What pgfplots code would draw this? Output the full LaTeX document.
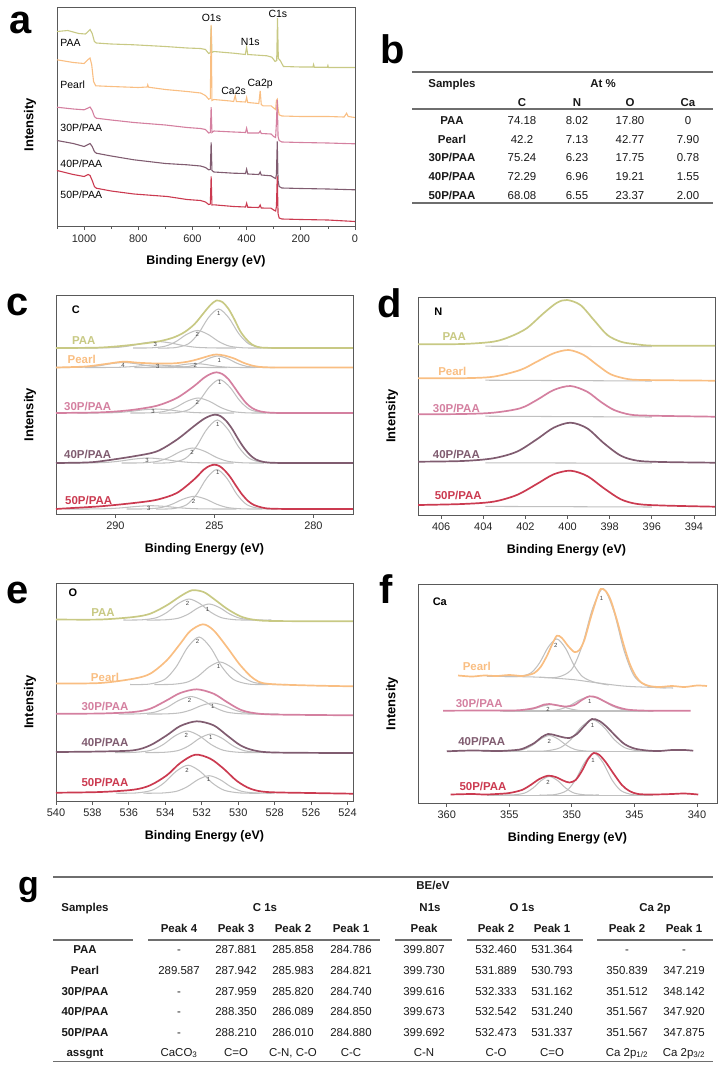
\documentclass[border=0pt]{standalone}
\usepackage{fontspec}
\setmainfont{Liberation Sans}
\setsansfont{Liberation Sans}
\usepackage{pgfplots}
\pgfplotsset{compat=1.18}
\definecolor{cPAA}{RGB}{200,201,132}
\definecolor{cPearl}{RGB}{249,190,130}
\definecolor{cThirty}{RGB}{212,128,160}
\definecolor{cForty}{RGB}{128,92,112}
\definecolor{cFifty}{RGB}{203,58,80}
\definecolor{cGray}{RGB}{192,192,192}
\definecolor{cRule}{RGB}{110,110,110}
\pgfplotsset{
  spec/.style={scale only axis, anchor=south west, x dir=reverse, ymin=0,
    axis line style={draw=black!65, line width=0.9bp},
    ytick=\empty, xtick pos=left, tick align=outside,
    major tick length=3.5bp, minor tick length=2bp,
    every tick/.style={black!65, line width=0.8bp},
    xticklabel style={font=\fontsize{11}{12}\selectfont, text=black!85, yshift=-1bp},
    /pgf/number format/assume math mode=true, /pgf/number format/1000 sep={},
    xlabel={Binding Energy (eV)}, ylabel={Intensity},
    xlabel style={at={([yshift=-35bp]axis description cs:0.5,0)}, anchor=center, font=\bfseries\fontsize{12.5}{13}\selectfont},
    ylabel style={at={([xshift=-26bp,yshift=-10bp]axis description cs:0,0.5)}, anchor=center, font=\bfseries\fontsize{13}{13}\selectfont},
  },
  dat/.style={line width=1.7bp, smooth},
  comp/.style={cGray, line width=1.05bp, smooth},
  sharpdat/.style={line width=1.1bp, sharp plot},
}
\tikzset{
  slab/.style={font=\bfseries\fontsize{11.5}{12}\selectfont, inner sep=0pt},
  elab/.style={font=\bfseries\fontsize{11}{12}\selectfont, inner sep=0pt},
  numl/.style={font=\fontsize{6}{6}\selectfont, text=black!75, inner sep=0pt},
  alab/.style={font=\fontsize{10.5}{11}\selectfont, inner sep=0pt},
  plab/.style={font=\bfseries\fontsize{40}{40}\selectfont, inner sep=0pt, anchor=base west},
  tb/.style={font=\fontsize{11.5}{13}\selectfont, anchor=base, inner sep=0pt, text=black!90},
  tbb/.style={font=\bfseries\fontsize{11.5}{13}\selectfont, anchor=base, inner sep=0pt, text=black!90},
}
\begin{document}
\begin{tikzpicture}
\useasboundingbox (0,0) rectangle (721bp,-1074bp);

% ---------------- panel a ----------------
\begin{axis}[spec, at={(57bp,-226.5bp)}, width=298bp, height=219.5bp,
  xmin=0, xmax=1100, ymax=219.5, xtick={0,200,...,1000}, minor xtick={100,300,...,1100},
  ylabel style={at={([xshift=-27bp,yshift=-8bp]axis description cs:0,0.5)}}]
\addplot[sharpdat, cPAA] coordinates {(1100,195) (1060,196) (1020,193) (995,192.5) (985,195) (978,197) (970,193) (962,185) (955,183.5) (900,182.5) (816,181.7) (700,180) (620,178.5) (570,178) (552,177) (540,173) (534,174) (531,200.7) (528,174) (521,175) (448,173.3) (405,172) (400,179.3) (396,172) (325,170.7) (307,169.3) (295,165) (289,166) (286,208.3) (283,168) (276,166) (264,160) (200,159.5) (155,159.5) (153,162) (150,159.3) (102,159.3) (100,161) (98,159) (0,159)};
\addplot[sharpdat, cPearl] coordinates {(1100,166.7) (1040,164) (1000,163) (985,167) (978,168.5) (972,162) (965,145) (957,140.7) (900,140) (800,139) (767,139.5) (765,141.7) (762,139.3) (700,137) (620,135) (570,133.5) (552,131) (540,127.3) (534,128) (531,201.7) (528,126) (521,127) (460,125.5) (448,125) (442,131) (438,125) (404,124.5) (400,129) (396,124) (355,123) (350,135.7) (346,122) (340,120.7) (310,120.7) (300,118.5) (293,117) (290,126) (287,127.3) (284,118) (280,111.7) (270,110.5) (200,110) (100,110) (40,109.5) (31,113.3) (25,110) (0,109)};
\addplot[sharpdat, cThirty] coordinates {(1100,119.3) (1040,117.5) (1000,116.7) (985,118.5) (978,119.5) (970,116) (962,110) (955,108.3) (900,106.5) (816,104) (700,101.5) (620,99) (570,98) (552,97) (540,93.5) (534,94) (531,119.3) (528,94) (521,95.5) (448,94.5) (404,94) (400,98.3) (396,93.5) (355,93.5) (350,95.5) (346,93) (310,92.5) (300,90) (293,89) (290,104) (287,126.7) (284,90) (280,86) (270,84.5) (200,84) (100,83.5) (40,83) (0,82.7)};
\addplot[sharpdat, cForty] coordinates {(1100,86) (1040,83) (1000,80) (985,82) (978,83) (970,80) (962,75) (955,73.3) (900,70.5) (816,66.7) (700,63) (620,61.7) (570,60.5) (552,59) (540,56.7) (534,57) (531,84) (528,56) (521,54.5) (448,53.3) (404,53) (400,57.3) (396,52.5) (355,52) (350,54.5) (346,51.5) (310,50.7) (300,49) (293,48) (290,52) (287,85) (284,46) (280,40) (270,38.5) (200,38) (100,37.5) (0,36.7)};
\addplot[sharpdat, cFifty] coordinates {(1100,56) (1040,52) (1000,50) (985,52) (978,51) (970,46) (962,40) (955,38.3) (900,35.5) (816,32.5) (693,30) (620,27) (570,26) (552,24.5) (540,22) (534,22.5) (531,50) (528,21.5) (521,21.7) (448,20) (404,19.5) (400,23.3) (396,19.3) (355,19) (350,21.5) (346,18.5) (310,18.3) (300,16.5) (293,15.5) (290,20) (287,50) (284,13) (280,8.5) (270,7.5) (200,7) (100,6.5) (0,5)};
\node[alab, anchor=west] at (1088,183.3) {PAA};
\node[alab, anchor=west] at (1088,141.7) {Pearl};
\node[alab, anchor=west] at (1088,98.3) {30P/PAA};
\node[alab, anchor=west] at (1088,62.7) {40P/PAA};
\node[alab, anchor=west] at (1088,31.7) {50P/PAA};
\node[alab] at (530,208.3) {O1s};
\node[alab] at (386.5,185) {N1s};
\node[alab] at (284.7,212.7) {C1s};
\node[alab] at (448,136) {Ca2s};
\node[alab] at (350,142.3) {Ca2p};
\end{axis}

% ---------------- panel c ----------------
\begin{axis}[spec, at={(56bp,-514bp)}, width=297bp, height=219bp,
  xmin=278, xmax=293, ymax=219, xtick={280,285,290}]
% PAA components
\addplot[comp] coordinates {(281.73,166) (282.58,166.35) (283.26,170.13) (283.77,180.39) (284.28,196.38) (284.79,205) (285.30,196.38) (285.81,180.39) (286.32,170.13) (287.00,166.35) (287.85,166)};
\addplot[comp] coordinates {(282.62,166) (283.52,166.16) (284.24,167.86) (284.78,172.46) (285.32,179.63) (285.86,183.5) (286.40,179.63) (286.94,172.46) (287.48,167.86) (288.20,166.16) (289.10,166)};
\addplot[comp] coordinates {(283.92,166) (285.02,166.06) (285.90,166.69) (286.56,168.40) (287.22,171.06) (287.88,172.5) (288.54,171.06) (289.20,168.40) (289.86,166.69) (290.74,166.06) (291.84,166)};
% Pearl components
\addplot[comp] coordinates {(281.94,146.5) (282.74,146.6) (283.38,147.72) (283.86,150.74) (284.34,155.46) (284.82,158) (285.30,155.46) (285.78,150.74) (286.26,147.72) (286.90,146.6) (287.70,146.5)};
\addplot[comp] coordinates {(282.92,146.5) (283.77,146.54) (284.45,146.92) (284.96,147.98) (285.47,149.62) (285.98,150.5) (286.49,149.62) (287.00,147.98) (287.51,146.92) (288.19,146.54) (289.04,146.5)};
\addplot[comp] coordinates {(284.34,146.5) (285.34,146.52) (286.14,146.77) (286.74,147.42) (287.34,148.45) (287.94,149) (288.54,148.45) (289.14,147.42) (289.74,146.77) (290.54,146.52) (291.54,146.5)};
\addplot[comp] coordinates {(285.99,146.5) (286.99,146.55) (287.79,147.03) (288.39,148.35) (288.99,150.4) (289.59,151.5) (290.19,150.4) (290.79,148.35) (291.39,147.03) (292.19,146.55) (293.19,146.5)};
% 30P components
\addplot[comp] coordinates {(281.68,101) (282.53,101.3) (283.21,104.55) (283.72,113.36) (284.23,127.1) (284.74,134.5) (285.25,127.1) (285.76,113.36) (286.27,104.55) (286.95,101.3) (287.80,101)};
\addplot[comp] coordinates {(282.40,101) (283.35,101.14) (284.11,102.59) (284.68,106.54) (285.25,112.69) (285.82,116) (286.39,112.69) (286.96,106.54) (287.53,102.59) (288.29,101.14) (289.24,101)};
\addplot[comp] coordinates {(284.00,101) (285.10,101.04) (285.98,101.42) (286.64,102.48) (287.30,104.12) (287.96,105) (288.62,104.12) (289.28,102.48) (289.94,101.42) (290.82,101.04) (291.92,101)};
% 40P components
\addplot[comp] coordinates {(281.61,51) (282.51,51.39) (283.23,55.56) (283.77,66.87) (284.31,84.5) (284.85,94) (285.39,84.5) (285.93,66.87) (286.47,55.56) (287.19,51.39) (288.09,51)};
\addplot[comp] coordinates {(282.49,51) (283.49,51.14) (284.29,52.59) (284.89,56.54) (285.49,62.69) (286.09,66) (286.69,62.69) (287.29,56.54) (287.89,52.59) (288.69,51.14) (289.69,51)};
\addplot[comp] coordinates {(284.03,51) (285.23,51.05) (286.19,51.53) (286.91,52.85) (287.63,54.9) (288.35,56) (289.07,54.9) (289.79,52.85) (290.51,51.53) (291.47,51.05) (292.67,51)};
% 50P components
\addplot[comp] coordinates {(281.82,5) (282.67,5.36) (283.35,9.19) (283.86,19.58) (284.37,35.77) (284.88,44.5) (285.39,35.77) (285.90,19.58) (286.41,9.19) (287.09,5.36) (287.94,5)};
\addplot[comp] coordinates {(282.59,5) (283.54,5.11) (284.30,6.35) (284.87,9.69) (285.44,14.89) (286.01,17.7) (286.58,14.89) (287.15,9.69) (287.72,6.35) (288.48,5.11) (289.43,5)};
\addplot[comp] coordinates {(283.89,5) (285.09,5.03) (286.05,5.35) (286.77,6.22) (287.49,7.57) (288.21,8.3) (288.93,7.57) (289.65,6.22) (290.37,5.35) (291.33,5.03) (292.53,5)};
% data
\addplot[dat, cPAA] coordinates {(293,166) (291,166.3) (290,167.5) (289,169.5) (288,172) (287.5,174) (287,177) (286.5,182) (286,190) (285.5,202) (285.2,209) (284.9,213.5) (284.6,212) (284.3,205.5) (284.0,195) (283.7,183) (283.4,175) (283.1,169.5) (282.8,167) (282.4,166.2) (281,166) (278,166)};
\addplot[dat, cPearl] coordinates {(293,146.5) (291.5,147.5) (290.5,150) (289.6,152.3) (288.8,151.2) (287.9,150.5) (287,150.7) (286.3,152.5) (285.8,155) (285.2,158.5) (284.9,159.5) (284.5,158.5) (284,155.5) (283.5,151) (283,148) (282.5,146.8) (281.5,146.5) (278,146.5)};
\addplot[dat, cThirty] coordinates {(293,101) (291,101.5) (290,102.5) (289.07,104.3) (287.9,108.3) (286.9,116) (286.04,127.7) (285.54,136) (285.2,140) (284.9,141.7) (284.6,140) (284.3,135) (284.0,127) (283.7,118.5) (283.4,111) (283.1,106) (282.8,103.3) (282.4,101.7) (281.5,101) (278,101)};
\addplot[dat, cForty] coordinates {(293,51) (291.5,51.5) (290.76,52.7) (289.07,57.7) (287.9,62.7) (286.9,74.3) (286.04,87.7) (285.54,95) (285.2,98.3) (284.95,99.3) (284.7,98) (284.4,93) (284.1,85) (283.8,75) (283.5,66) (283.2,59) (282.9,54.5) (282.5,52) (282,51.2) (281,51) (278,51)};
\addplot[dat, cFifty] coordinates {(293,5) (292.44,5.7) (290.76,7.7) (289.07,11) (287.9,14.3) (286.9,21) (286.04,34.3) (285.54,44.3) (285.25,48) (285.0,49.3) (284.75,48) (284.5,44) (284.2,37) (283.9,28) (283.6,19.5) (283.3,13) (283.0,9) (282.6,6.5) (282.2,5.4) (281,5) (278,5)};
\node[elab] at (292.0,204) {C};
\node[slab, text=cPAA] at (291.6,173) {PAA};
\node[slab, text=cPearl] at (291.7,155) {Pearl};
\node[slab, text=cThirty] at (291.4,108) {30P/PAA};
\node[slab, text=cForty] at (291.4,60) {40P/PAA};
\node[slab, text=cFifty] at (291.35,14) {50P/PAA};
\node[numl] at (284.78,200.7) {1}; \node[numl] at (285.87,180) {2}; \node[numl] at (287.98,170) {3};
\node[numl] at (284.75,153.3) {1}; \node[numl] at (285.96,149) {2}; \node[numl] at (287.86,148) {3}; \node[numl] at (289.61,148.7) {4};
\node[numl] at (284.73,131.3) {1}; \node[numl] at (285.87,111.3) {2}; \node[numl] at (288.1,103) {3};
\node[numl] at (284.83,90) {1}; \node[numl] at (286.13,61.3) {2}; \node[numl] at (288.4,53.3) {3};
\node[numl] at (284.83,41.3) {1}; \node[numl] at (286.05,13) {2}; \node[numl] at (288.32,6) {3};
\end{axis}

% ---------------- panel d ----------------
\begin{axis}[spec, at={(418bp,-515bp)}, width=297bp, height=218bp,
  xmin=393, xmax=407.1, ymax=218, xtick={394,396,...,406}]
\addplot[comp] coordinates {(403.9,168.8) (396.0,168.3)};
\addplot[comp] coordinates {(403.9,134.8) (396.0,134.0)};
\addplot[comp] coordinates {(403.9,98.8) (396.0,98.0)};
\addplot[comp] coordinates {(403.9,52.2) (396.0,51.8)};
\addplot[comp] coordinates {(403.9,8.6) (396.0,8.0)};
\addplot[dat, cPAA] coordinates {(407.1,170.7) (405,171) (403.53,173.3) (402.73,178.3) (401.94,186.7) (401.14,201.7) (400.5,212.3) (400.02,215) (399.39,210) (398.75,195) (398.11,180) (397.47,173.3) (396.84,171) (395.88,169.3) (393,169.3)};
\addplot[dat, cPearl] coordinates {(407.1,136.7) (405,136.8) (403.53,138.3) (402.25,145) (401.46,153.3) (400.66,161.7) (399.94,165) (399.23,160) (398.59,150) (397.95,140.7) (397.16,136) (396.36,135) (393,134.3)};
\addplot[dat, cThirty] coordinates {(407.1,100.7) (405,101) (403.53,102.3) (402.25,106.7) (401.46,115) (400.66,125) (399.86,129) (399.07,123.3) (398.43,113.3) (397.79,105) (397.0,100.3) (396,99.3) (393,98.3)};
\addplot[dat, cForty] coordinates {(407.1,53.3) (405,54) (403.53,56.7) (402.41,63.3) (401.46,75.7) (400.66,87.3) (399.86,92.3) (399.07,86.7) (398.27,71.7) (397.47,59.3) (396.68,54.3) (395.5,53) (393,52.3)};
\addplot[dat, cFifty] coordinates {(407.1,10) (405,11) (403.53,13.3) (402.41,20) (401.46,31) (400.66,40.7) (399.86,44.3) (399.07,39) (398.27,26.7) (397.47,15.7) (396.68,11) (395.5,9.5) (393,8.3)};
\node[elab] at (406.14,203) {N};
\node[slab, text=cPAA] at (405.38,178) {PAA};
\node[slab, text=cPearl] at (405.47,144) {Pearl};
\node[slab, text=cThirty] at (405.28,107) {30P/PAA};
\node[slab, text=cForty] at (405.28,61) {40P/PAA};
\node[slab, text=cFifty] at (405.19,20) {50P/PAA};
\end{axis}

% ---------------- panel e ----------------
\begin{axis}[spec, at={(56bp,-801bp)}, width=297bp, height=218bp,
  xmin=523.7, xmax=540, ymax=218, xtick={524,526,...,540}]
\addplot[comp] coordinates {(529.1,181) (530.1,181.19) (530.9,183.23) (531.5,188.75) (532.1,197.36) (532.7,202) (533.3,197.36) (533.9,188.75) (534.5,183.23) (535.3,181.19) (536.3,181)};
\addplot[comp] coordinates {(528.18,181) (529.13,181.14) (529.89,182.7) (530.46,186.9) (531.03,193.46) (531.6,197) (532.17,193.46) (532.74,186.9) (533.31,182.7) (534.07,181.14) (535.02,181)};
\addplot[comp] coordinates {(528.37,116.5) (529.42,116.93) (530.26,121.54) (530.89,134.03) (531.52,153.5) (532.15,164) (532.78,153.5) (533.41,134.03) (534.04,121.54) (534.88,116.93) (535.93,116.5)};
\addplot[comp] coordinates {(527.4,116.5) (528.4,116.7) (529.2,118.89) (529.8,124.8) (530.4,134.03) (531.0,139) (531.6,134.03) (532.2,124.8) (532.8,118.89) (533.6,116.7) (534.6,116.5)};
\addplot[comp] coordinates {(528.64,87) (529.74,87.16) (530.62,88.86) (531.28,93.46) (531.94,100.63) (532.6,104.5) (533.26,100.63) (533.92,93.46) (534.58,88.86) (535.46,87.16) (536.56,87)};
\addplot[comp] coordinates {(527.8,87) (528.8,87.1) (529.6,88.17) (530.2,91.06) (530.8,95.57) (531.4,98) (532.0,95.57) (532.6,91.06) (533.2,88.17) (534.0,87.1) (535.0,87)};
\addplot[comp] coordinates {(528.84,48.5) (529.94,48.69) (530.82,50.78) (531.48,56.43) (532.14,65.25) (532.8,70) (533.46,65.25) (534.12,56.43) (534.78,50.78) (535.66,48.69) (536.76,48.5)};
\addplot[comp] coordinates {(527.9,48.5) (528.9,48.67) (529.7,50.46) (530.3,55.33) (530.9,62.91) (531.5,67) (532.1,62.91) (532.7,55.33) (533.3,50.46) (534.1,48.67) (535.1,48.5)};
\addplot[comp] coordinates {(528.79,7.8) (529.89,8.05) (530.77,10.77) (531.43,18.13) (532.09,29.61) (532.75,35.8) (533.41,29.61) (534.07,18.13) (534.73,10.77) (535.61,8.05) (536.71,7.8)};
\addplot[comp] coordinates {(528.0,7.8) (529.0,7.96) (529.8,9.66) (530.4,14.26) (531.0,21.43) (531.6,25.3) (532.2,21.43) (532.8,14.26) (533.4,9.66) (534.2,7.96) (535.2,7.8)};
\addplot[dat, cPAA] coordinates {(540,181.5) (537.58,181.5) (535.75,184) (534.83,187.3) (533.92,195.7) (533.18,204.7) (532.54,210.7) (531.9,209) (531.35,202.3) (530.62,192.3) (529.88,184.7) (529.15,181.3) (528.05,180) (523.7,179.7)};
\addplot[dat, cPearl] coordinates {(540,117.5) (537.58,118) (535.75,122.3) (534.83,127.3) (533.92,140.7) (533.18,157.3) (532.63,170) (531.94,176.7) (531.35,170.7) (530.62,154) (529.88,135.7) (529.15,122.3) (528.42,117.3) (526,115.5) (523.7,114.7)};
\addplot[dat, cThirty] coordinates {(540,87.3) (537.58,87.5) (535.75,89) (534.83,92.3) (533.92,100.7) (533.18,108) (532.27,111.7) (531.35,107.3) (530.62,99) (529.88,91.3) (529.15,88) (528,86.5) (523.7,85.7)};
\addplot[dat, cForty] coordinates {(540,49) (537.58,49.5) (535.75,50.7) (534.83,55.7) (533.92,65.7) (533.18,75) (532.27,79.7) (531.35,75.7) (530.62,65.7) (529.88,55.7) (529.15,50.7) (528,48.5) (523.7,48)};
\addplot[dat, cFifty] coordinates {(540,8.3) (537.58,9) (535.75,11.3) (534.83,15.7) (533.92,25.7) (533.18,38) (532.36,46.3) (531.53,42.3) (530.8,32.3) (530.07,20) (529.33,12.3) (528.42,9) (526,8) (523.7,7.3)};
\node[elab] at (539.07,208) {O};
\node[slab, text=cPAA] at (537.42,188) {PAA};
\node[slab, text=cPearl] at (537.31,124) {Pearl};
\node[slab, text=cThirty] at (537.31,95) {30P/PAA};
\node[slab, text=cForty] at (537.31,59) {40P/PAA};
\node[slab, text=cFifty] at (537.31,19) {50P/PAA};
\node[numl] at (532.78,197.7) {2}; \node[numl] at (531.68,191.7) {1};
\node[numl] at (532.23,160) {2}; \node[numl] at (531.08,135) {1};
\node[numl] at (532.67,100.3) {2}; \node[numl] at (531.39,95) {1};
\node[numl] at (532.85,66) {2}; \node[numl] at (531.5,63.7) {1};
\node[numl] at (532.81,31) {2}; \node[numl] at (531.63,22) {1};
\end{axis}

% ---------------- panel f ----------------
\begin{axis}[spec, at={(418bp,-803bp)}, width=299bp, height=219bp,
  xmin=338.4, xmax=362.3, ymax=219, xtick={340,345,...,360}]
\addplot[comp] coordinates {(356.8,126.7) (353,126) (350,123.5) (348.3,120.7) (345.6,116.7) (341.9,115)};
\addplot[comp] coordinates {(342.46,115.2) (343.86,116.56) (344.98,126.17) (345.82,152.06) (346.66,192.2) (347.5,214.3) (348.34,194.7) (349.18,157.26) (350.02,133.57) (351.14,125.86) (352.54,125.8)};
\addplot[comp] coordinates {(347.06,118) (348.21,120.85) (349.13,126.23) (349.82,137.59) (350.51,154.78) (351.2,164.1) (351.89,155.88) (352.58,140.19) (353.27,130.13) (354.19,126.65) (355.34,126.5)};
\addplot[comp] coordinates {(355.5,92) (343.5,92)};
\addplot[comp] coordinates {(343.46,92) (344.86,92.13) (345.98,93.54) (346.82,97.35) (347.66,103.3) (348.5,106.5) (349.34,103.3) (350.18,97.35) (351.02,93.54) (352.14,92.13) (353.54,92)};
\addplot[comp] coordinates {(347.46,92) (348.61,92.06) (349.53,92.69) (350.22,94.4) (350.91,97.06) (351.6,98.5) (352.29,97.06) (352.98,94.4) (353.67,92.69) (354.59,92.06) (355.74,92)};
\addplot[comp] coordinates {(357.1,51.8) (343.5,51.8)};
\addplot[comp] coordinates {(343.13,51.8) (344.58,52.08) (345.74,55.14) (346.61,63.42) (347.48,76.34) (348.35,83.3) (349.22,76.34) (350.09,63.42) (350.96,55.14) (352.12,52.08) (353.57,51.8)};
\addplot[comp] coordinates {(347.66,51.8) (348.81,51.94) (349.73,53.46) (350.42,57.59) (351.11,64.03) (351.8,67.5) (352.49,64.03) (353.18,57.59) (353.87,53.46) (354.79,51.94) (355.94,51.8)};
\addplot[comp] coordinates {(356.8,7.5) (343.5,7.5)};
\addplot[comp] coordinates {(343.93,8) (345.13,8.38) (346.09,12.45) (346.81,23.5) (347.53,40.72) (348.25,50) (348.97,40.72) (349.69,23.5) (350.41,12.45) (351.37,8.38) (352.57,8)};
\addplot[comp] coordinates {(347.84,8) (348.94,8.17) (349.82,9.96) (350.48,14.83) (351.14,22.41) (351.8,26.5) (352.46,22.41) (353.12,14.83) (353.78,9.96) (354.66,8.17) (355.76,8)};
\addplot[dat, cPearl] coordinates {(359.1,127.5) (358,126.5) (357,127.5) (356,127) (355,128) (354,127) (353.5,128) (353,130) (352.5,136) (352,147) (351.6,158) (351.2,167.3) (350.8,165) (350.3,157) (349.8,151) (349.4,153) (349,163) (348.5,185) (348,205) (347.7,214) (347.3,212) (346.9,203) (346.4,183) (345.9,160) (345.4,140) (344.9,127) (344.4,120) (343.8,117) (343,116) (342,117) (341,116) (340,117.5) (339.2,117)};
\addplot[dat, cThirty] coordinates {(360.3,92.3) (357,92.5) (355,92.5) (354,93) (353,95) (352.2,98.5) (351.8,99) (351.3,98) (350.5,96.5) (349.8,98) (349.2,103) (348.6,106.7) (348,105.5) (347.3,101) (346.5,96.5) (345.6,93.5) (344.5,92.5) (343,92.3) (340.5,92.3)};
\addplot[dat, cForty] coordinates {(360,51.7) (358,52.5) (356,52) (355,52.5) (354,54) (353,60) (352.4,66) (351.9,69) (351.4,68) (350.8,66) (350.2,65) (349.6,69) (349,77) (348.4,84) (347.8,82) (347.2,76) (346.5,67) (345.8,59) (345,54.5) (344,52.5) (343,52) (342,53) (341,53) (340.3,52.3)};
\addplot[dat, cFifty] coordinates {(359.7,8.5) (358,9) (357,8.5) (356,9) (355,10) (354,13) (353.3,18) (352.6,24) (351.9,27.3) (351.3,26) (350.7,22.5) (350.2,20.5) (349.7,23) (349.2,32) (348.7,44) (348.25,50) (347.8,48) (347.3,41) (346.7,30) (346,18) (345.4,12) (344.7,9) (343.5,8.5) (342,9) (341,9.5) (339.9,8.5)};
\node[elab] at (360.56,201.3) {Ca};
\node[slab, text=cPearl] at (357.6,137) {Pearl};
\node[slab, text=cThirty] at (357.4,99.7) {30P/PAA};
\node[slab, text=cForty] at (357.2,61.3) {40P/PAA};
\node[slab, text=cFifty] at (357.1,17) {50P/PAA};
\node[numl] at (347.62,204.7) {1}; \node[numl] at (351.28,158) {2};
\node[numl] at (348.56,101.3) {1}; \node[numl] at (351.9,93.7) {2};
\node[numl] at (348.35,78) {1}; \node[numl] at (351.81,61.3) {2};
\node[numl] at (348.3,42.3) {1}; \node[numl] at (351.9,20.3) {2};
\end{axis}

\begin{scope}[x=1bp,y=-1bp]
% panel letters
\node[plab] at (9,33) {a};
\node[plab] at (380,63) {b};
\node[plab] at (6,315) {c};
\node[plab] at (377,317) {d};
\node[plab] at (6,603) {e};
\node[plab] at (379,603) {f};
\node[plab, font=\bfseries\fontsize{34}{34}\selectfont] at (18,895) {g};

% table b
\draw[cRule, line width=1.2bp] (412,72) -- (713,72);
\draw[cRule, line width=1.2bp] (412,109) -- (713,109);
\draw[cRule, line width=1.2bp] (412,203) -- (713,203);
\node[tbb] at (452,87) {Samples};
\node[tbb] at (603,87) {At \%};
\node[tbb] at (522,106) {C};
\node[tbb] at (577,106) {N};
\node[tbb] at (630,106) {O};
\node[tbb] at (688,106) {Ca};
\foreach \nm/\c/\n/\o/\ca/\yy in {PAA/74.18/8.02/17.80/0/124, Pearl/42.2/7.13/42.77/7.90/143, 30P\slash PAA/75.24/6.23/17.75/0.78/161.7, 40P\slash PAA/72.29/6.96/19.21/1.55/180.7, 50P\slash PAA/68.08/6.55/23.37/2.00/199}{
  \node[tbb] at (452,\yy) {\nm};
  \node[tb] at (522,\yy) {\c};
  \node[tb] at (577,\yy) {\n};
  \node[tb] at (630,\yy) {\o};
  \node[tb] at (688,\yy) {\ca};
}

% table g
\draw[cRule, line width=1.2bp] (53,877) -- (713,877);
\draw[cRule, line width=1.2bp] (53,1061.5) -- (713,1061.5);
\draw[cRule, line width=1.2bp] (53,940) -- (133,940);
\draw[cRule, line width=1.2bp] (148,940) -- (380,940);
\draw[cRule, line width=1.2bp] (395,940) -- (452,940);
\draw[cRule, line width=1.2bp] (467,940) -- (583,940);
\draw[cRule, line width=1.2bp] (597,940) -- (713,940);
\node[tbb] at (433,889) {BE/eV};
\node[tbb] at (85,911) {Samples};
\node[tbb] at (265,911) {C 1s};
\node[tbb] at (430,911) {N1s};
\node[tbb] at (522,911) {O 1s};
\node[tbb] at (655,911) {Ca 2p};
\node[tbb] at (179,932) {Peak 4};
\node[tbb] at (236,932) {Peak 3};
\node[tbb] at (293,932) {Peak 2};
\node[tbb] at (351,932) {Peak 1};
\node[tbb] at (424,932) {Peak};
\node[tbb] at (496,932) {Peak 2};
\node[tbb] at (552,932) {Peak 1};
\node[tbb] at (627,932) {Peak 2};
\node[tbb] at (684,932) {Peak 1};
\foreach \nm/\pa/\pb/\pc/\pd/\nn/\oa/\ob/\ca/\cb/\yy in {
  PAA/-/287.881/285.858/284.786/399.807/532.460/531.364/-/-/953,
  Pearl/289.587/287.942/285.983/284.821/399.730/531.889/530.793/350.839/347.219/974,
  30P\slash PAA/-/287.959/285.820/284.740/399.616/532.333/531.162/351.512/348.142/995,
  40P\slash PAA/-/288.350/286.089/284.850/399.673/532.542/531.240/351.567/347.920/1015,
  50P\slash PAA/-/288.210/286.010/284.880/399.692/532.473/531.337/351.567/347.875/1036}{
  \node[tbb] at (85,\yy) {\nm};
  \node[tb] at (179,\yy) {\pa};
  \node[tb] at (236,\yy) {\pb};
  \node[tb] at (293,\yy) {\pc};
  \node[tb] at (351,\yy) {\pd};
  \node[tb] at (424,\yy) {\nn};
  \node[tb] at (496,\yy) {\oa};
  \node[tb] at (552,\yy) {\ob};
  \node[tb] at (627,\yy) {\ca};
  \node[tb] at (684,\yy) {\cb};
}
\node[tbb] at (85,1056) {assgnt};
\node[tb] at (179,1056) {CaCO\textsubscript{3}};
\node[tb] at (236,1056) {C=O};
\node[tb] at (293,1056) {C-N, C-O};
\node[tb] at (351,1056) {C-C};
\node[tb] at (424,1056) {C-N};
\node[tb] at (496,1056) {C-O};
\node[tb] at (552,1056) {C=O};
\node[tb] at (627,1056) {Ca 2p\textsubscript{1/2}};
\node[tb] at (684,1056) {Ca 2p\textsubscript{3/2}};
\end{scope}
\end{tikzpicture}
\end{document}
